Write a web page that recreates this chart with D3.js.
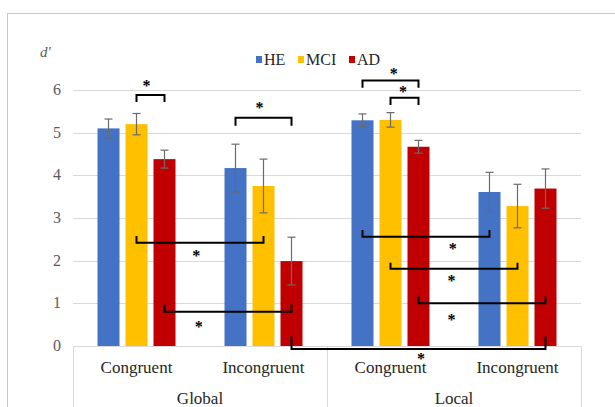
<!DOCTYPE html>
<html>
<head>
<meta charset="utf-8">
<script src="https://cdn.jsdelivr.net/npm/d3@7/dist/d3.min.js"></script>
<style>
  body { margin: 0; background: #fff; }
  svg { display: block; font-family: "Liberation Serif", "Times New Roman", serif; }
</style>
</head>
<body>
<svg id="svg" width="615" height="407"></svg>
<script>
// data
var groups = ["Global", "Local"];
var conditions = ["Congruent", "Incongruent"];
var series = ["HE", "MCI", "AD"];
var colors = ["#4472C4", "#FFC000", "#C00000"];
var yTicks = [0, 1, 2, 3, 4, 5, 6];

// order: Global-Congruent, Global-Incongruent, Local-Congruent, Local-Incongruent
var heVals  = [5.10, 4.17, 5.29, 3.61];
var mciVals = [5.20, 3.75, 5.30, 3.28];
var adVals  = [4.38, 1.99, 4.67, 3.69];
var heErr  = [0.22, 0.56, 0.15, 0.46];
var mciErr = [0.25, 0.63, 0.17, 0.51];
var adErr  = [0.21, 0.56, 0.15, 0.46];

// significance brackets: [cat, series] -> [cat, series], line level, tick end level, star pos (fraction, level)
var brackets = [
  { a: [0, 1], b: [0, 2], line: 5.88, end: 5.72, sf: 0.36, sy: 6.16 },
  { a: [1, 0], b: [1, 2], line: 5.35, end: 5.16, sf: 0.43, sy: 5.65 },
  { a: [2, 0], b: [2, 2], line: 6.22, end: 6.05, sf: 0.56, sy: 6.45 },
  { a: [2, 1], b: [2, 2], line: 5.82, end: 5.65, sf: 0.45, sy: 6.02 },
  { a: [0, 1], b: [1, 1], line: 2.42, end: 2.58, sf: 0.47, sy: 2.19 },
  { a: [0, 2], b: [1, 2], line: 0.80, end: 0.97, sf: 0.27, sy: 0.52 },
  { a: [1, 2], b: [3, 2], line: -0.07, end: 0.22, sf: 0.51, sy: -0.23 },
  { a: [2, 0], b: [3, 0], line: 2.56, end: 2.72, sf: 0.71, sy: 2.34 },
  { a: [2, 1], b: [3, 1], line: 1.81, end: 1.95, sf: 0.48, sy: 1.59 },
  { a: [2, 2], b: [3, 2], line: 1.00, end: 1.16, sf: 0.26, sy: 0.69 }
];

var vals = [heVals, mciVals, adVals];
var errs = [heErr, mciErr, adErr];

var cats = [];
groups.forEach(function(g){
  conditions.forEach(function(c){ cats.push(g + "|" + c); });
});

var svg = d3.select("#svg");
var plotL = 73, plotR = 581, plotT = 90, plotB = 346;

var x0 = d3.scaleBand().domain(cats).range([plotL, plotR]).padding(0);
var x1 = d3.scaleBand().domain(series).range([0, x0.bandwidth()])
  .paddingInner(0.214).paddingOuter(0.875);
var y = d3.scaleLinear().domain([0, 6]).range([plotB, plotT]);

// chart frame
svg.append("rect")
  .attr("x", 7.5).attr("y", 13.5)
  .attr("width", 700).attr("height", 500)
  .attr("fill", "none").attr("stroke", "#c9c9c9").attr("stroke-width", 1);

// grid
svg.append("g").selectAll("line")
  .data(yTicks.filter(function(t){ return t > 0; }))
  .join("line")
  .attr("x1", plotL).attr("x2", plotR)
  .attr("y1", function(d){ return Math.round(y(d)) + 0.5; })
  .attr("y2", function(d){ return Math.round(y(d)) + 0.5; })
  .attr("stroke", "#d9d9d9");

// y labels
svg.append("g").selectAll("text")
  .data(yTicks)
  .join("text")
  .attr("x", 61)
  .attr("y", function(d){ return y(d) + 5; })
  .attr("text-anchor", "end")
  .attr("font-size", 16)
  .attr("fill", "#595959")
  .text(function(d){ return d; });

// axis label
svg.append("text")
  .attr("x", 40).attr("y", 57)
  .attr("font-size", 15).attr("font-style", "italic")
  .attr("fill", "#595959")
  .text("d'");

// bars
var barG = svg.append("g");
series.forEach(function(s, si){
  var rows = cats.map(function(c, ci){ return { cat: c, v: vals[si][ci], e: errs[si][ci] }; });
  barG.append("g").selectAll("rect")
    .data(rows)
    .join("rect")
    .attr("x", function(d){ return x0(d.cat) + x1(s); })
    .attr("y", function(d){ return y(d.v); })
    .attr("width", x1.bandwidth())
    .attr("height", function(d){ return y(0) - y(d.v); })
    .attr("fill", colors[si]);
  var eg = barG.append("g").attr("stroke", "#6b6b6b").attr("stroke-width", 1.2);
  rows.forEach(function(d){
    var cx = x0(d.cat) + x1(s) + x1.bandwidth() / 2;
    eg.append("line").attr("x1", cx).attr("x2", cx)
      .attr("y1", y(d.v + d.e)).attr("y2", y(d.v - d.e));
    eg.append("line").attr("x1", cx - 4).attr("x2", cx + 4)
      .attr("y1", y(d.v + d.e)).attr("y2", y(d.v + d.e));
    eg.append("line").attr("x1", cx - 4).attr("x2", cx + 4)
      .attr("y1", y(d.v - d.e)).attr("y2", y(d.v - d.e));
  });
});

// category axis box
var axG = svg.append("g").attr("stroke", "#d9d9d9").attr("fill", "none");
axG.append("line").attr("x1", plotL).attr("x2", plotR)
  .attr("y1", plotB + 0.5).attr("y2", plotB + 0.5);
[plotL, (plotL + plotR) / 2, plotR].forEach(function(xx){
  axG.append("line").attr("x1", Math.round(xx) + 0.5).attr("x2", Math.round(xx) + 0.5)
    .attr("y1", plotB).attr("y2", 420);
});

svg.append("g").selectAll("text")
  .data(cats)
  .join("text")
  .attr("x", function(d){ return x0(d) + x0.bandwidth() / 2; })
  .attr("y", 373)
  .attr("text-anchor", "middle")
  .attr("font-size", 17)
  .attr("fill", "#262626")
  .text(function(d){ return d.split("|")[1]; });

svg.append("g").selectAll("text")
  .data(groups)
  .join("text")
  .attr("x", function(d, i){ return x0(cats[i * 2]) + x0.bandwidth(); })
  .attr("y", 404)
  .attr("text-anchor", "middle")
  .attr("font-size", 17)
  .attr("fill", "#262626")
  .text(function(d){ return d; });

// legend
var legX = [256, 298, 349];
var leg = svg.append("g").selectAll("g")
  .data(series)
  .join("g")
  .attr("transform", function(d, i){ return "translate(" + legX[i] + ",0)"; });
leg.append("rect").attr("x", 0).attr("y", 56).attr("width", 6).attr("height", 7)
  .attr("fill", function(d, i){ return colors[i]; });
leg.append("text").attr("x", 8).attr("y", 65)
  .attr("font-size", 16).attr("fill", "#262626")
  .text(function(d){ return d; });

// significance brackets
function cx(p){ return x0(cats[p[0]]) + x1(series[p[1]]) + x1.bandwidth() / 2; }
var bg = svg.append("g");
brackets.forEach(function(b){
  var xa = cx(b.a), xb = cx(b.b);
  bg.append("path")
    .attr("d", "M" + xa + "," + y(b.end) + "V" + y(b.line) + "H" + xb + "V" + y(b.end))
    .attr("fill", "none").attr("stroke", "#000").attr("stroke-width", 2);
  bg.append("text")
    .attr("x", xa + (xb - xa) * b.sf)
    .attr("y", y(b.sy) + 8)
    .attr("text-anchor", "middle")
    .attr("font-size", 16).attr("font-weight", "bold")
    .text("*");
});
</script>
</body>
</html>
